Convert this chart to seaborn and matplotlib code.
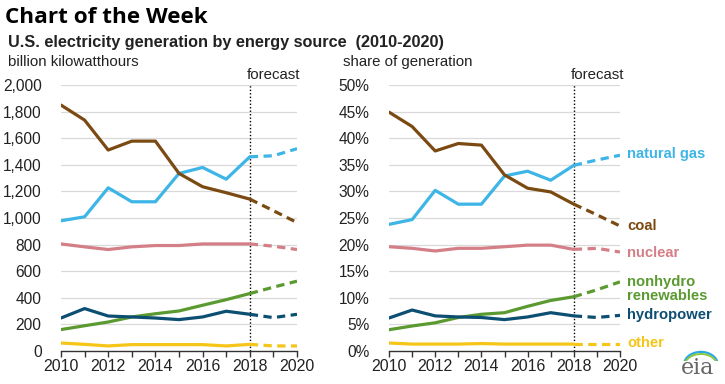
import numpy as np
import pandas as pd
import seaborn as sns
import matplotlib.pyplot as plt
from matplotlib.patches import Arc
from matplotlib.ticker import FuncFormatter, MultipleLocator

# ---- data ----
years = list(range(2010, 2021))
sources = ['natural gas', 'coal', 'nuclear', 'nonhydro\nrenewables', 'hydropower', 'other']
colors = ['#3db5e6', '#7b4a12', '#d47f87', '#5b9a31', '#0d4f73', '#f5c518']

gen_gas = [979, 1009, 1227, 1122, 1122, 1335, 1380, 1292, 1460, 1468, 1521]
gen_coal = [1849, 1736, 1511, 1578, 1578, 1335, 1235, 1190, 1142, 1055, 966]
gen_nuclear = [805, 783, 763, 783, 793, 793, 805, 805, 805, 788, 763]
gen_renew = [161, 190, 218, 256, 280, 301, 344, 386, 432, 480, 525]
gen_hydro = [248, 319, 263, 256, 248, 236, 256, 299, 276, 251, 276]
gen_other = [60, 50, 38, 48, 48, 48, 48, 38, 50, 38, 38]

shr_gas = [23.8, 24.7, 30.2, 27.6, 27.6, 32.9, 33.8, 32.1, 34.9, 35.9, 36.8]
shr_coal = [44.9, 42.2, 37.6, 39.0, 38.7, 33.1, 30.6, 29.9, 27.6, 25.6, 23.5]
shr_nuclear = [19.6, 19.3, 18.8, 19.3, 19.3, 19.6, 19.9, 19.9, 19.1, 19.3, 18.6]
shr_renew = [4.0, 4.7, 5.3, 6.3, 6.9, 7.2, 8.4, 9.5, 10.2, 11.5, 13.0]
shr_hydro = [6.2, 7.7, 6.6, 6.4, 6.3, 5.9, 6.4, 7.2, 6.6, 6.3, 6.7]
shr_other = [1.5, 1.3, 1.3, 1.3, 1.4, 1.3, 1.3, 1.3, 1.3, 1.3, 1.3]

label_y = [37.1, 23.5, 18.5, 11.6, 6.7, 1.5]
forecast_year = 2018

gen = pd.DataFrame(dict(zip(sources, [gen_gas, gen_coal, gen_nuclear, gen_renew, gen_hydro, gen_other])), index=years)
shr = pd.DataFrame(dict(zip(sources, [shr_gas, shr_coal, shr_nuclear, shr_renew, shr_hydro, shr_other])), index=years)

sns.set_style("white")
plt.rcParams['font.family'] = ['Liberation Sans', 'DejaVu Sans']

fig = plt.figure(figsize=(7.25, 3.84), dpi=100)
ax1 = fig.add_axes([61/725, 1-351/384, 236/725, 266/384])
ax2 = fig.add_axes([389/725, 1-351/384, 231/725, 266/384])

lw = 2.3
dash = (0, (2.6, 1.7))


def draw_panel(ax, df, ymax, step, fmt):
    for grid_y in np.arange(step, ymax + step / 2, step):
        ax.axhline(grid_y, color='#d9d9d9', lw=0.9, zorder=0)
    for src, c in zip(sources, colors):
        actual = df.loc[:forecast_year, src]
        fcst = df.loc[forecast_year:, src]
        sns.lineplot(x=actual.index, y=actual.values, ax=ax, color=c, lw=lw, zorder=3)
        sns.lineplot(x=fcst.index, y=fcst.values, ax=ax, color=c, lw=lw, linestyle=dash, zorder=3)
    ax.axvline(forecast_year, color='black', lw=1, linestyle=(0, (1, 1.5)), zorder=2)
    ax.text(forecast_year - 0.15, ymax * 1.012, 'forecast', fontsize=10.8, color='#222222', va='bottom', ha='left')
    ax.set_xlim(2010, 2020)
    ax.set_ylim(0, ymax)
    ax.xaxis.set_major_locator(MultipleLocator(2))
    ax.xaxis.set_minor_locator(MultipleLocator(1))
    ax.yaxis.set_major_locator(MultipleLocator(step))
    ax.yaxis.set_major_formatter(FuncFormatter(fmt))
    ax.tick_params(axis='x', which='both', direction='out', length=4, width=1, color='#333333',
                   labelsize=11.5, labelcolor='#222222', pad=2, bottom=True)
    ax.tick_params(axis='y', length=0, labelsize=11.2, labelcolor='#222222', pad=14)
    for s in ['left', 'right', 'top']:
        ax.spines[s].set_visible(False)
    ax.spines['bottom'].set_color('#333333')
    ax.spines['bottom'].set_linewidth(1)
    ax.set_xlabel('')
    ax.set_ylabel('')


draw_panel(ax1, gen, 2000, 200, lambda v, p: f'{int(v):,}')
draw_panel(ax2, shr, 50, 5, lambda v, p: f'{int(v)}%')

for src, c, ly in zip(sources, colors, label_y):
    ax2.annotate(src, xy=(2020, ly), xytext=(5, 0), textcoords='offset points',
                 color=c, fontsize=10.6, fontweight='bold', va='center', ha='left',
                 linespacing=1.0, annotation_clip=False)

fig.text(0.007, 0.955, 'Chart of the Week', fontsize=16.2, fontweight='bold',
         family=['Open Sans', 'DejaVu Sans'], color='black', va='center')
fig.text(0.011, 0.89, 'U.S. electricity generation by energy source  (2010-2020)', fontsize=11.7,
         fontweight='bold', color='#222222', va='center')
fig.text(0.011, 0.838, 'billion kilowatthours', fontsize=10.8, color='#222222', va='center')
fig.text(343/725, 0.838, 'share of generation', fontsize=10.8, color='#222222', va='center')

# eia mark
fig.text(698/725, 1-368/384, 'eia', fontsize=16, color='#666666', family='DejaVu Serif',
         ha='center', va='center')
arc_ax = fig.add_axes([680/725, 1-361/384, 38/725, 14/384])
arc_ax.axis('off')
arc_ax.set_xlim(0, 1)
arc_ax.set_ylim(0, 1)
arc_ax.add_patch(Arc((0.55, -0.3), 0.9, 1.9, theta1=20, theta2=160, color='#27a9e1', lw=1.6))
arc_ax.add_patch(Arc((0.55, -0.45), 0.9, 1.9, theta1=20, theta2=160, color='#8dc63f', lw=1.4))

fig.savefig('out.png', dpi=100)
